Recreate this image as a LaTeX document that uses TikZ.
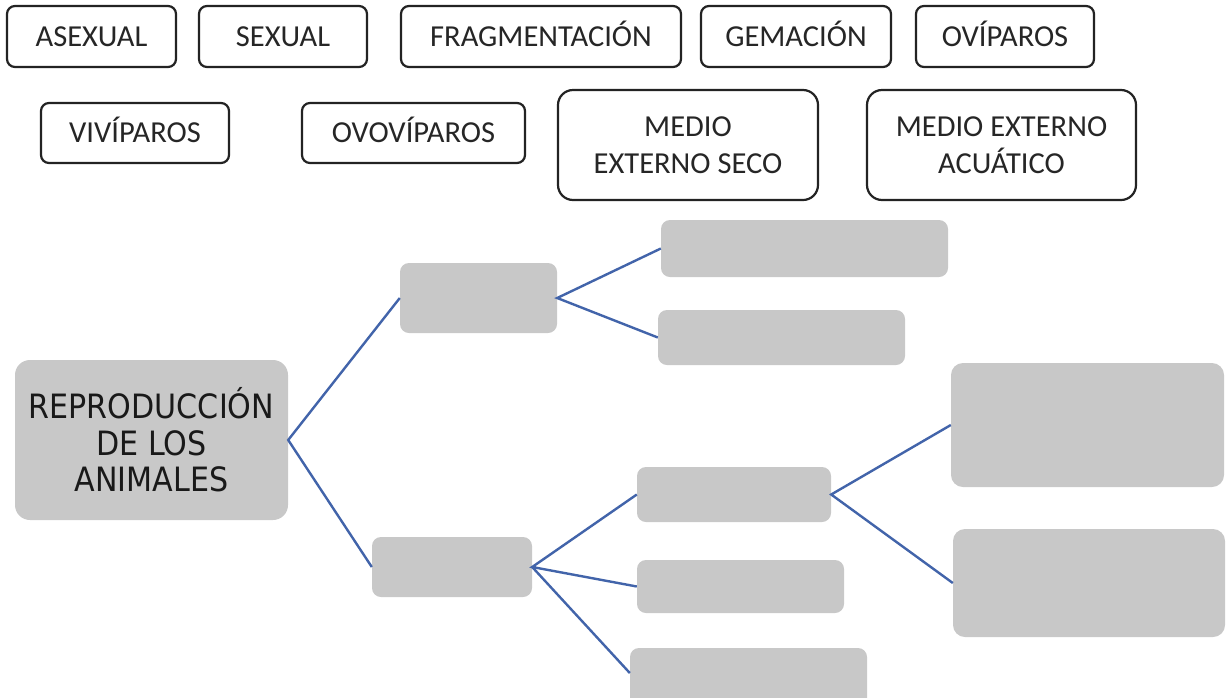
\documentclass[tikz,border=0pt]{standalone}
\usepackage{fontspec}
\setmainfont{Carlito}
\newfontfamily\mainlab[FakeStretch=0.9]{DejaVu Sans}
\usetikzlibrary{calc}
\definecolor{boxgray}{RGB}{200,200,200}
\definecolor{linkblue}{RGB}{66,100,170}
\definecolor{edgedark}{RGB}{35,35,35}
\tikzset{
  label/.style={draw=edgedark, line width=2.2pt, rounded corners=8pt, fill=white,
    inner sep=0pt, text=black!85, font=\fontsize{30.5}{37}\selectfont, text height=19.6pt, text depth=0pt},
  biglabel/.style={draw=edgedark, line width=2.2pt, rounded corners=15pt, fill=white,
    inner sep=0pt, align=center, text=black!85, font=\fontsize{30.5}{37}\selectfont},
  graybox/.style={fill=boxgray, draw=none, rounded corners=9pt, inner sep=0pt},
  link/.style={draw=linkblue, line width=2.4pt}
}
\begin{document}
\begin{tikzpicture}[x=1pt,y=-1pt]
\useasboundingbox (0,0) rectangle (1226,697);
\fill[white] (0,0) rectangle (1226,697);
% word bank row 1
\node[label, minimum width=169pt, minimum height=61pt] (asexual) at (91.5,36.5) {ASEXUAL};
\node[label, minimum width=168pt, minimum height=61pt] (sexual) at (283,36.5) {SEXUAL};
\node[label, minimum width=280pt, minimum height=61pt] (frag) at (541,36.5) {FRAGMENTACIÓN};
\node[label, minimum width=190pt, minimum height=61pt] (gem) at (796,36.5) {GEMACIÓN};
\node[label, minimum width=178pt, minimum height=61pt] (ovi) at (1005,36.5) {OVÍPAROS};
% word bank row 2
\node[label, minimum width=188pt, minimum height=60pt] (vivi) at (135,133) {VIVÍPAROS};
\node[label, minimum width=223pt, minimum height=60pt] (ovovi) at (413.5,133) {OVOVÍPAROS};
\node[biglabel, minimum width=260pt, minimum height=110pt] (seco) at (688,145) {MEDIO\\EXTERNO SECO};
\node[biglabel, minimum width=269pt, minimum height=110pt] (acua) at (1001.5,145) {MEDIO EXTERNO\\ACUÁTICO};
% concept map boxes
\node[graybox, rounded corners=15pt, minimum width=273pt, minimum height=160pt, align=center,
  text=black!90, font=\mainlab\fontsize{33.5}{36.5}\selectfont] (main) at (151.5,440) {REPRODUCCIÓN\\DE LOS\\ANIMALES};
\node[graybox, minimum width=157pt, minimum height=70pt] (um) at (478.5,298) {};
\node[graybox, minimum width=287pt, minimum height=57pt] (ur1) at (804.5,248.5) {};
\node[graybox, minimum width=247pt, minimum height=55pt] (ur2) at (781.5,337.5) {};
\node[graybox, minimum width=160pt, minimum height=60pt] (lm) at (452,567) {};
\node[graybox, minimum width=194pt, minimum height=55pt] (lr1) at (734,494.5) {};
\node[graybox, minimum width=207pt, minimum height=53pt] (lr2) at (740.5,586.5) {};
\node[graybox, minimum width=237pt, minimum height=62pt] (lr3) at (748.5,679) {};
\node[graybox, rounded corners=12pt, minimum width=273pt, minimum height=124pt] (fr1) at (1087.5,425) {};
\node[graybox, rounded corners=12pt, minimum width=272pt, minimum height=108pt] (fr2) at (1089,583) {};
\coordinate (lr3in) at ($(lr3.west)+(0,-6)$);
% connectors
\draw[link] (um.west) -- (main.east) -- (lm.west);
\draw[link] (ur1.west) -- (um.east) -- (ur2.west);
\draw[link] (lr1.west) -- (lm.east) -- (lr2.west);
\draw[link] (lm.east) -- (lr3in);
\draw[link] (fr1.west) -- (lr1.east) -- (fr2.west);
\end{tikzpicture}
\end{document}
